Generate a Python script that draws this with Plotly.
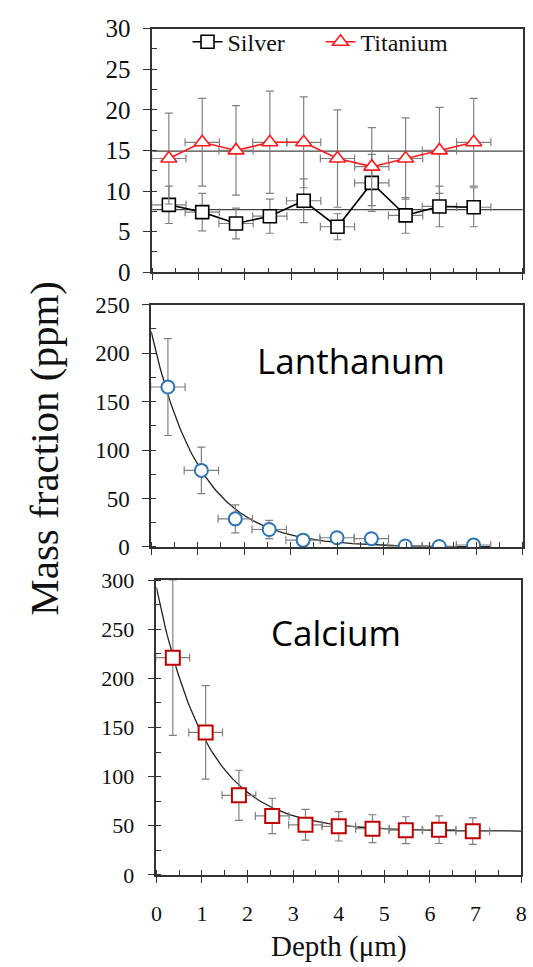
import numpy as np
import plotly.graph_objects as go

# ---- data ----
depth = [0.36, 1.08, 1.81, 2.54, 3.27, 4.00, 4.74, 5.47, 6.20, 6.94]
depth_err = [0.37] * 10

silver = [8.3, 7.4, 6.0, 6.9, 8.8, 5.6, 11.0, 7.0, 8.1, 8.0]
silver_err = [2.3, 2.3, 1.9, 2.1, 2.7, 1.6, 3.5, 2.2, 2.5, 2.4]
titanium = [14, 16, 15, 16, 16, 14, 13, 14, 15, 16]
titanium_err = [5.6, 5.4, 5.5, 6.3, 5.6, 6.0, 4.8, 5.0, 5.3, 5.4]

lanthanum = [165, 79, 29, 18, 7, 9.5, 8.5, 1.0, 0.5, 2.0]
lanthanum_err = [50, 24, 14.5, 9.5, 4, 4, 4, 2, 2, 2]

calcium = [221, 145, 81, 60, 51, 49.5, 47, 45.5, 46, 44.5]
calcium_err = [79, 47.5, 25.5, 18, 15.6, 15, 14.2, 13.7, 14, 13.5]

# exponential fit parameters
LA_A, LA_K, LA_XMAX = 222.0, 0.96, 7.3
CA_BASE, CA_A, CA_K, CA_XMAX = 44.5, 248.0, 0.92, 8.0

W, H = 533, 967
SERIF = "Liberation Serif"
AXC = "#333333"
ERRC = "#808080"


def px_x(p):
    return p / W


def px_y(p):
    return 1 - p / H


fig = go.Figure()


def err(arr, w=4):
    return dict(type="data", array=arr, visible=True, color=ERRC, thickness=1.2, width=w)


# ---- top panel: silver & titanium ----
for vals in (titanium, silver):
    m = float(np.mean(vals))
    fig.add_trace(go.Scatter(x=[0, 8], y=[m, m], mode="lines", line=dict(color="#444444", width=1.3),
                             xaxis="x3", yaxis="y3", showlegend=False, hoverinfo="skip"))

fig.add_trace(go.Scatter(
    x=depth, y=silver, name="Silver", mode="lines+markers", xaxis="x3", yaxis="y3",
    line=dict(color="black", width=1.6),
    marker=dict(symbol="square", size=13, color="white", line=dict(color="black", width=1.6)),
    error_y=err(silver_err), error_x=err(depth_err)))
fig.add_trace(go.Scatter(
    x=depth, y=titanium, name="Titanium", mode="lines+markers", xaxis="x3", yaxis="y3",
    line=dict(color="#ff1a1a", width=1.6),
    marker=dict(symbol="triangle-up", size=14, color="white", line=dict(color="#ff1a1a", width=1.6)),
    error_y=err(titanium_err), error_x=err(depth_err)))

# ---- middle panel: lanthanum ----
xf = np.linspace(0, LA_XMAX, 200)
fig.add_trace(go.Scatter(x=xf, y=LA_A * np.exp(-LA_K * xf), mode="lines",
                         line=dict(color="#222222", width=1.3), xaxis="x2", yaxis="y2",
                         showlegend=False, hoverinfo="skip"))
fig.add_trace(go.Scatter(
    x=depth, y=lanthanum, mode="markers", xaxis="x2", yaxis="y2", showlegend=False,
    marker=dict(symbol="circle", size=13, color="white", line=dict(color="#2E75B6", width=2)),
    error_y=err(lanthanum_err), error_x=err(depth_err)))

# ---- bottom panel: calcium ----
xc = np.linspace(0, CA_XMAX, 200)
fig.add_trace(go.Scatter(x=xc, y=CA_BASE + CA_A * np.exp(-CA_K * xc), mode="lines",
                         line=dict(color="#222222", width=1.3), xaxis="x", yaxis="y",
                         showlegend=False, hoverinfo="skip"))
fig.add_trace(go.Scatter(
    x=depth, y=calcium, mode="markers", xaxis="x", yaxis="y", showlegend=False,
    marker=dict(symbol="square", size=14, color="white", line=dict(color="#C00000", width=2)),
    error_y=err(calcium_err), error_x=err(depth_err)))


def xax(domain, anchor, labels, fsize):
    return dict(domain=domain, anchor=anchor, range=[0, 8], dtick=1, tick0=0,
                showline=True, mirror=True, linecolor=AXC, linewidth=1.5,
                ticks="outside", ticklen=6, tickwidth=1.3, tickcolor=AXC,
                minor=dict(dtick=0.5, ticks="inside", ticklen=5, tickwidth=1.3, tickcolor=AXC),
                showgrid=False, zeroline=False, showticklabels=labels, ticklabelstandoff=12,
                tickfont=dict(family=SERIF, size=fsize, color="#111"))


def yax(domain, anchor, rng, dt, fsize, standoff):
    return dict(domain=domain, anchor=anchor, range=rng, dtick=dt, tick0=0,
                showline=True, mirror=True, linecolor=AXC, linewidth=1.5,
                ticks="outside", ticklen=7, tickwidth=1.3, tickcolor=AXC,
                minor=dict(dtick=dt / 2, ticks="inside", ticklen=5, tickwidth=1.3, tickcolor=AXC),
                showgrid=False, zeroline=False, ticklabelstandoff=standoff,
                tickfont=dict(family=SERIF, size=fsize, color="#111"))


def inner_ticks(base, anchor, rng, dt, side):
    # second set of major ticks pointing into the plot, so majors cross the frame
    return dict(overlaying=base, anchor=anchor, range=rng, dtick=dt, tick0=0, side=side,
                showline=False, showgrid=False, zeroline=False, showticklabels=False,
                ticks="inside", ticklen=6, tickwidth=1.3, tickcolor=AXC)


dom_x1 = [px_x(154.3), px_x(526)]
dom_x2 = [px_x(149), px_x(527.7)]
dom_x3 = [px_x(150), px_x(527.7)]
dom_y1 = [px_y(886.7), px_y(583.3)]
dom_y2 = [px_y(549.3), px_y(300)]
dom_y3 = [px_y(266.7), px_y(16)]

fig.update_layout(
    width=W, height=H, margin=dict(l=0, r=0, t=0, b=0),
    paper_bgcolor="white", plot_bgcolor="white",
    xaxis=xax(dom_x1, "y", True, 22),
    yaxis=yax(dom_y1, "x", [0, 300], 50, 22, 9),
    xaxis2=xax(dom_x2, "y2", False, 22),
    yaxis2=yax(dom_y2, "x2", [0, 250], 50, 23, 8),
    xaxis3=xax(dom_x3, "y3", False, 22),
    yaxis3=yax(dom_y3, "x3", [0, 30], 5, 25, 8),
    xaxis4=inner_ticks("x", "y", [0, 8], 1, "bottom"),
    xaxis5=inner_ticks("x2", "y2", [0, 8], 1, "bottom"),
    xaxis6=inner_ticks("x3", "y3", [0, 8], 1, "bottom"),
    yaxis4=inner_ticks("y", "x", [0, 300], 50, "left"),
    yaxis5=inner_ticks("y2", "x2", [0, 250], 50, "left"),
    yaxis6=inner_ticks("y3", "x3", [0, 30], 5, "left"),
    legend=dict(orientation="h", x=px_x(186), y=px_y(30), xanchor="left", yanchor="middle",
                bgcolor="rgba(0,0,0,0)", font=dict(family=SERIF, size=24, color="#111"),
                itemwidth=30, entrywidth=88),
    annotations=[
        dict(text="Lanthanum", x=px_x(352.5), y=px_y(357), xref="paper", yref="paper",
             showarrow=False, xanchor="center", yanchor="middle",
             font=dict(family="Open Sans", size=35, color="black")),
        dict(text="Calcium", x=px_x(337), y=px_y(637), xref="paper", yref="paper",
             showarrow=False, xanchor="center", yanchor="middle",
             font=dict(family="Open Sans", size=35, color="black")),
        dict(text="Mass fraction (ppm)", x=px_x(40), y=px_y(448), xref="paper", yref="paper",
             showarrow=False, textangle=-90, xanchor="center", yanchor="middle",
             font=dict(family=SERIF, size=41, color="#111")),
        dict(text="Depth (μm)", x=px_x(340), y=px_y(960), xref="paper", yref="paper",
             showarrow=False, xanchor="center", yanchor="middle",
             font=dict(family=SERIF, size=29, color="#111")),
    ],
)

fig.write_html("out.html")
